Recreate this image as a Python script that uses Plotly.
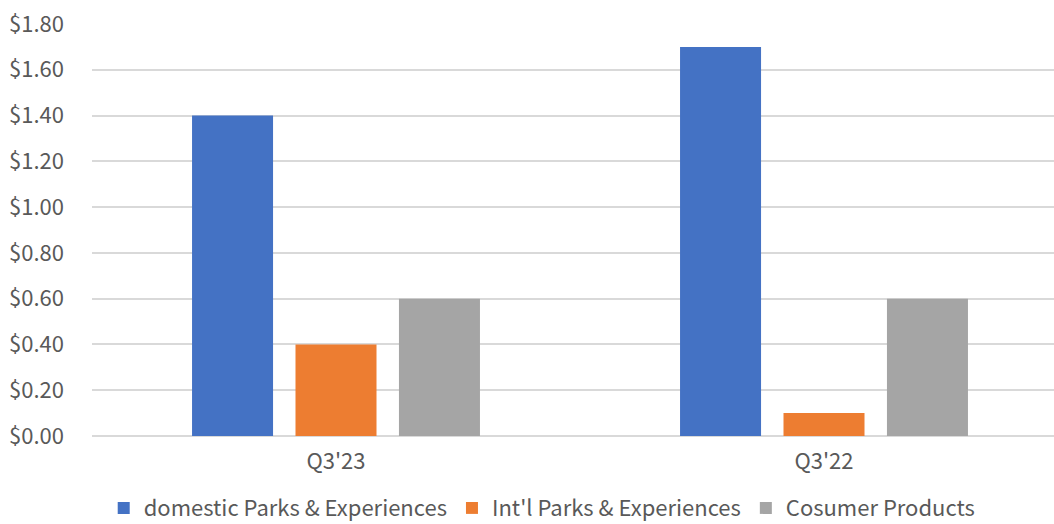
import plotly.graph_objects as go

categories = ["Q3'23", "Q3'22"]
domestic_parks = [1.40, 1.70]
intl_parks = [0.40, 0.10]
consumer_products = [0.60, 0.60]
series_names = ["domestic Parks & Experiences", "Int'l Parks & Experiences", "Cosumer Products"]
colors = ["#4472C4", "#ED7D31", "#A5A5A5"]
y_ticks = [0, 0.2, 0.4, 0.6, 0.8, 1.0, 1.2, 1.4, 1.6, 1.8]

FONT = "Noto Sans CJK SC"
TXT = "#595959"

fig = go.Figure()
for name, vals, col in zip(series_names, [domestic_parks, intl_parks, consumer_products], colors):
    fig.add_trace(go.Bar(x=categories, y=vals, name=name, marker=dict(color=col, line=dict(width=0))))

fig.update_layout(
    width=1054, height=524,
    margin=dict(l=92, r=0, t=24, b=88, autoexpand=False),
    paper_bgcolor="white", plot_bgcolor="white",
    barmode="group", bargap=0.364, bargroupgap=0.217,
    font=dict(family=FONT, size=22, color=TXT),
    legend=dict(orientation="h", x=0.468, xanchor="center", y=-0.175, yanchor="middle",
                font=dict(family=FONT, size=22, color=TXT), itemclick=False,
                bgcolor="rgba(0,0,0,0)"),
    xaxis=dict(type="category", range=[-0.5, 1.5 - 14/488], showgrid=False,
               showline=False, ticks="", ticklabelstandoff=10,
               tickfont=dict(size=22, color=TXT)),
    yaxis=dict(range=[0, 1.8], tickvals=y_ticks, tickformat="$.2f",
               showgrid=True, gridcolor="#D9D9D9", gridwidth=1.5,
               zeroline=True, zerolinecolor="#D9D9D9", zerolinewidth=1.5,
               showline=False, ticks="", ticklabelstandoff=27,
               tickfont=dict(size=22, color=TXT)),
)

fig.write_html("out.html")
